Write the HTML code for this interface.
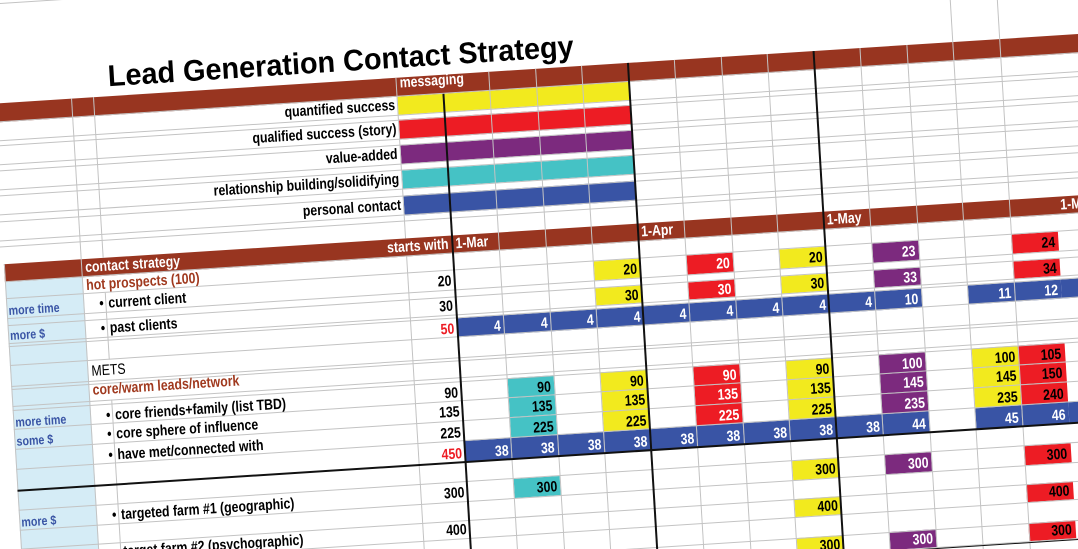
<!DOCTYPE html>
<html><head><meta charset="utf-8">
<style>
html,body{margin:0;padding:0;width:1078px;height:549px;overflow:hidden;background:#fff}
#clip{position:relative;width:1078px;height:549px;overflow:hidden;background:#fff}
#t{position:absolute;left:0;top:0;width:1200px;height:700px;transform-origin:0 0;transform:matrix(0.998,-0.064,0.06,0.998,0,0)}
#t div{position:absolute;box-sizing:border-box}
.bn{background:#983520}
.cy{background:#f2ea1e}
.cr{background:#ed1c24}
.cp{background:#7c2a7e}
.cc{background:#45c2c5}
.cb{background:#3954a5}
.lb{background:#d5ecf6}
.h{height:1px;background:#c3c3c3}
.hu{left:-20px;width:1150px}
.hl{left:-12px;width:1142px}
.v{width:1px;background:#c3c3c3}
.k{background:#111}
.T,.L,.R,.n{white-space:nowrap;font-family:"Liberation Sans",Arial,sans-serif;font-weight:bold;font-size:15px;line-height:20px;color:#000}
.L span,.R span,.n span{display:inline-block;transform:scaleX(.82)}
.L span{transform-origin:0 50%}
.R{text-align:right;width:300px}
.R span,.n span{transform-origin:100% 50%}
.n{width:46.5px;text-align:right;padding-right:3px}
.w{color:#fff}
.br{color:#a0391e}
.bl{color:#3a55a5;font-size:13px}
.rd{color:#ed1c24}
.a0{left:437px}.a1{left:483.5px}.a2{left:530px}.a3{left:576.5px}.a4{left:623px}.a5{left:669.5px}.a6{left:716px}.a7{left:762.5px}.a8{left:809px}.a9{left:855.5px}.a10{left:902px}.a11{left:948.5px}.a12{left:995px}.a13{left:1041.5px}
.q2{top:298.5px;height:19.5px;padding-top:1.8px}
.q3{top:325.5px;height:17.5px;padding-top:0}
.q4{top:346.5px;height:19px;padding-top:1.3px}
.q7{top:410px;height:19.5px;padding-top:1.8px}
.q8{top:429.5px;height:19.5px;padding-top:1.8px}
.q9{top:449px;height:20.5px;padding-top:2.8px}
.q10{top:469.5px;height:21px;padding-top:3.3px}
.q12{top:510.5px;height:19.5px;padding-top:1.8px}
.q14{top:549px;height:18px;padding-top:.3px}
.q16{top:588px;height:18px;padding-top:.3px}
</style></head><body>
<div id="clip">
<div id="t">
<!-- backgrounds -->
<div class="bn" style="left:-20px;top:102.5px;width:1150px;height:19px"></div>
<div class="bn" style="left:-12px;top:263.5px;width:1142px;height:18px"></div>
<div class="lb" style="left:-12px;top:281.5px;width:77.5px;height:420px"></div>
<!-- messaging bars -->
<div class="cy" style="left:390.5px;top:121.5px;width:232.5px;height:18.5px"></div>
<div class="cr" style="left:390.5px;top:145px;width:232.5px;height:19.5px"></div>
<div class="cp" style="left:390.5px;top:170.5px;width:232.5px;height:18.5px"></div>
<div class="cc" style="left:390.5px;top:195.5px;width:232.5px;height:18.5px"></div>
<div class="cb" style="left:390.5px;top:221px;width:232.5px;height:19.5px"></div>

<!-- R2 -->
<div class="n cy a3 q2"><span>20</span></div>
<div class="n cr w a5 q2"><span>20</span></div>
<div class="n cy a7 q2"><span>20</span></div>
<div class="n cp w a9 q2"><span>23</span></div>
<div class="n cr a12 q2"><span>24</span></div>
<!-- R3 -->
<div class="n cy a3 q3"><span>30</span></div>
<div class="n cr w a5 q3"><span>30</span></div>
<div class="n cy a7 q3"><span>30</span></div>
<div class="n cp w a9 q3"><span>33</span></div>
<div class="n cr a12 q3"><span>34</span></div>
<!-- R4 -->
<div class="n cb w a0 q4"><span>4</span></div>
<div class="n cb w a1 q4"><span>4</span></div>
<div class="n cb w a2 q4"><span>4</span></div>
<div class="n cb w a3 q4"><span>4</span></div>
<div class="n cb w a4 q4"><span>4</span></div>
<div class="n cb w a5 q4"><span>4</span></div>
<div class="n cb w a6 q4"><span>4</span></div>
<div class="n cb w a7 q4"><span>4</span></div>
<div class="n cb w a8 q4"><span>4</span></div>
<div class="n cb w a9 q4"><span>10</span></div>
<div class="n cb w a11 q4"><span>11</span></div>
<div class="n cb w a12 q4"><span>12</span></div>
<div class="n cb w a13 q4"><span>13</span></div>
<!-- R7 -->
<div class="n cc a1 q7"><span>90</span></div>
<div class="n cy a3 q7"><span>90</span></div>
<div class="n cr w a5 q7"><span>90</span></div>
<div class="n cy a7 q7"><span>90</span></div>
<div class="n cp w a9 q7"><span>100</span></div>
<div class="n cy a11 q7"><span>100</span></div>
<div class="n cr a12 q7"><span>105</span></div>
<!-- R8 -->
<div class="n cc a1 q8"><span>135</span></div>
<div class="n cy a3 q8"><span>135</span></div>
<div class="n cr w a5 q8"><span>135</span></div>
<div class="n cy a7 q8"><span>135</span></div>
<div class="n cp w a9 q8"><span>145</span></div>
<div class="n cy a11 q8"><span>145</span></div>
<div class="n cr a12 q8"><span>150</span></div>
<!-- R9 -->
<div class="n cc a1 q9"><span>225</span></div>
<div class="n cy a3 q9"><span>225</span></div>
<div class="n cr w a5 q9"><span>225</span></div>
<div class="n cy a7 q9"><span>225</span></div>
<div class="n cp w a9 q9"><span>235</span></div>
<div class="n cy a11 q9"><span>235</span></div>
<div class="n cr a12 q9"><span>240</span></div>
<!-- R10 -->
<div class="n cb w a0 q10"><span>38</span></div>
<div class="n cb w a1 q10"><span>38</span></div>
<div class="n cb w a2 q10"><span>38</span></div>
<div class="n cb w a3 q10"><span>38</span></div>
<div class="n cb w a4 q10"><span>38</span></div>
<div class="n cb w a5 q10"><span>38</span></div>
<div class="n cb w a6 q10"><span>38</span></div>
<div class="n cb w a7 q10"><span>38</span></div>
<div class="n cb w a8 q10"><span>38</span></div>
<div class="n cb w a9 q10"><span>44</span></div>
<div class="n cb w a11 q10"><span>45</span></div>
<div class="n cb w a12 q10"><span>46</span></div>
<div class="n cb w a13 q10"><span>47</span></div>
<!-- R12 -->
<div class="n cc a1 q12"><span>300</span></div>
<div class="n cy a7 q12"><span>300</span></div>
<div class="n cp w a9 q12"><span>300</span></div>
<div class="n cr a12 q12"><span>300</span></div>
<!-- R14 -->
<div class="n cy a7 q14"><span>400</span></div>
<div class="n cr a12 q14"><span>400</span></div>
<!-- R16 -->
<div class="n cy a7 q16"><span>300</span></div>
<div class="n cp w a9 q16"><span>300</span></div>
<div class="n cr a12 q16"><span>300</span></div>

<!-- horizontal gridlines -->
<div class="h" style="left:-40px;width:140px;top:2.9px"></div>
<div class="h hu" style="top:121px"></div>
<div class="h hu" style="top:139.5px"></div>
<div class="h hu" style="top:144.5px"></div>
<div class="h hu" style="top:164px"></div>
<div class="h hu" style="top:170px"></div>
<div class="h hu" style="top:188.5px"></div>
<div class="h hu" style="top:195px"></div>
<div class="h hu" style="top:213.5px"></div>
<div class="h hu" style="top:220.5px"></div>
<div class="h hu" style="top:240px"></div>
<div class="h hu" style="top:245.5px"></div>
<div class="h hl" style="top:281px"></div>
<div class="h hl" style="top:298px"></div>
<div class="h hl" style="top:317.5px"></div>
<div class="h hl" style="top:325px"></div>
<div class="h hl" style="top:342.5px"></div>
<div class="h hl" style="top:346px"></div>
<div class="h hl" style="top:365px"></div>
<div class="h hl" style="top:385.5px"></div>
<div class="h hl" style="top:389px"></div>
<div class="h hl" style="top:405.5px"></div>
<div class="h hl" style="top:409.5px"></div>
<div class="h hl" style="top:429px"></div>
<div class="h hl" style="top:448.5px"></div>
<div class="h hl" style="top:469px"></div>
<div class="h hl" style="top:510px"></div>
<div class="h hl" style="top:529.5px"></div>
<div class="h hl" style="top:548.5px"></div>
<div class="h hl" style="top:566.5px"></div>
<div class="h hl" style="top:587.5px"></div>
<div class="h hl" style="top:605.5px"></div>

<!-- vertical gridlines -->
<div class="v" style="left:-12.5px;top:263.5px;height:450px"></div>
<div class="v" style="left:65px;top:102.5px;height:600px"></div>
<div class="v" style="left:86.5px;top:102.5px;height:161px"></div>
<div class="v" style="left:86.5px;top:298.5px;height:67px"></div>
<div class="v" style="left:86.5px;top:406px;height:296px"></div>
<div class="v" style="left:390px;top:102.5px;height:161px"></div>
<div class="v" style="left:390px;top:281.5px;height:420px"></div>
<div class="v" style="left:483px;top:102.5px;height:600px"></div>
<div class="v" style="left:529.5px;top:102.5px;height:600px"></div>
<div class="v" style="left:576px;top:102.5px;height:600px"></div>
<div class="v" style="left:669px;top:102.5px;height:600px"></div>
<div class="v" style="left:715.5px;top:102.5px;height:600px"></div>
<div class="v" style="left:762px;top:102.5px;height:600px"></div>
<div class="v" style="left:855px;top:102.5px;height:600px"></div>
<div class="v" style="left:901.5px;top:102.5px;height:600px"></div>
<div class="v" style="left:948px;top:-40px;height:740px"></div>
<div class="v" style="left:994.5px;top:-40px;height:740px"></div>

<!-- black lines -->
<div class="k" style="left:436.2px;top:121.5px;width:1.6px;height:600px"></div>
<div class="k" style="left:622.2px;top:102.5px;width:1.6px;height:600px"></div>
<div class="k" style="left:808.2px;top:102.5px;width:1.6px;height:600px"></div>
<div class="k" style="left:-12px;top:490.1px;width:1150px;height:1.9px"></div>
<div class="k" style="left:-12px;top:606.6px;width:1150px;height:1.9px"></div>

<!-- title -->
<div class="T" style="left:103px;top:69.1px;font-size:30px;line-height:30px"><span style="display:inline-block;transform:scaleX(.962);transform-origin:0 50%">Lead Generation Contact Strategy</span></div>

<!-- band 1 -->
<div class="L w" style="left:394px;top:99.3px"><span>messaging</span></div>

<!-- messaging labels -->
<div class="R" style="left:88px;top:120.8px"><span>quantified success</span></div>
<div class="R" style="left:88px;top:145.3px"><span>qualified success (story)</span></div>
<div class="R" style="left:88px;top:169.8px"><span>value-added</span></div>
<div class="R" style="left:88px;top:194.8px"><span>relationship building/solidifying</span></div>
<div class="R" style="left:88px;top:221.3px"><span>personal contact</span></div>

<!-- band 2 -->
<div class="L w" style="left:69px;top:262.8px"><span>contact strategy</span></div>
<div class="R w" style="left:133px;top:262.8px"><span>starts with</span></div>
<div class="L w" style="left:440px;top:262.8px"><span>1-Mar</span></div>
<div class="L w" style="left:626px;top:262.8px"><span>1-Apr</span></div>
<div class="L w" style="left:812px;top:262.8px"><span>1-May</span></div>
<div class="L w" style="left:1046px;top:262.8px"><span>1-May</span></div>

<!-- R1 -->
<div class="L br" style="left:69px;top:280.8px"><span>hot prospects (100)</span></div>
<!-- R2 -->
<div class="L bl" style="left:-10px;top:301px"><span>more time</span></div>
<div class="R" style="left:-215px;top:300.3px"><span>•</span></div>
<div class="L" style="left:89.5px;top:300.3px"><span>current client</span></div>
<div class="R" style="left:134px;top:300.3px"><span>20</span></div>
<!-- R3 -->
<div class="L bl" style="left:-10px;top:326px"><span>more $</span></div>
<div class="R" style="left:-215px;top:325.3px"><span>•</span></div>
<div class="L" style="left:89.5px;top:325.3px"><span>past clients</span></div>
<div class="R" style="left:134px;top:325.3px"><span>30</span></div>
<!-- R4 -->
<div class="R rd" style="left:134px;top:347.8px"><span>50</span></div>
<!-- R5 R6 -->
<div class="L" style="left:69px;top:366.8px;font-weight:normal"><span>METS</span></div>
<div class="L br" style="left:69px;top:385.8px"><span>core/warm leads/network</span></div>
<!-- R7 -->
<div class="L bl" style="left:-10px;top:412.5px"><span>more time</span></div>
<div class="R" style="left:-215px;top:411.8px"><span>•</span></div>
<div class="L" style="left:89.5px;top:411.8px"><span>core friends+family (list TBD)</span></div>
<div class="R" style="left:134px;top:411.8px"><span>90</span></div>
<!-- R8 -->
<div class="L bl" style="left:-10px;top:432px"><span>some $</span></div>
<div class="R" style="left:-215px;top:431.3px"><span>•</span></div>
<div class="L" style="left:89.5px;top:431.3px"><span>core sphere of influence</span></div>
<div class="R" style="left:134px;top:431.3px"><span>135</span></div>
<!-- R9 -->
<div class="R" style="left:-215px;top:451.8px"><span>•</span></div>
<div class="L" style="left:89.5px;top:451.8px"><span>have met/connected with</span></div>
<div class="R" style="left:134px;top:451.8px"><span>225</span></div>
<!-- R10 -->
<div class="R rd" style="left:134px;top:472.8px"><span>450</span></div>
<!-- R12 -->
<div class="L bl" style="left:-10px;top:513px"><span>more $</span></div>
<div class="R" style="left:-215px;top:512.3px"><span>•</span></div>
<div class="L" style="left:89.5px;top:512.3px"><span>targeted farm #1 (geographic)</span></div>
<div class="R" style="left:134px;top:512.3px"><span>300</span></div>
<!-- R14 -->
<div class="R" style="left:-215px;top:549.3px"><span>•</span></div>
<div class="L" style="left:89.5px;top:549.3px"><span>target farm #2 (psychographic)</span></div>
<div class="R" style="left:134px;top:549.3px"><span>400</span></div>
</div>
</div>
</body></html>
